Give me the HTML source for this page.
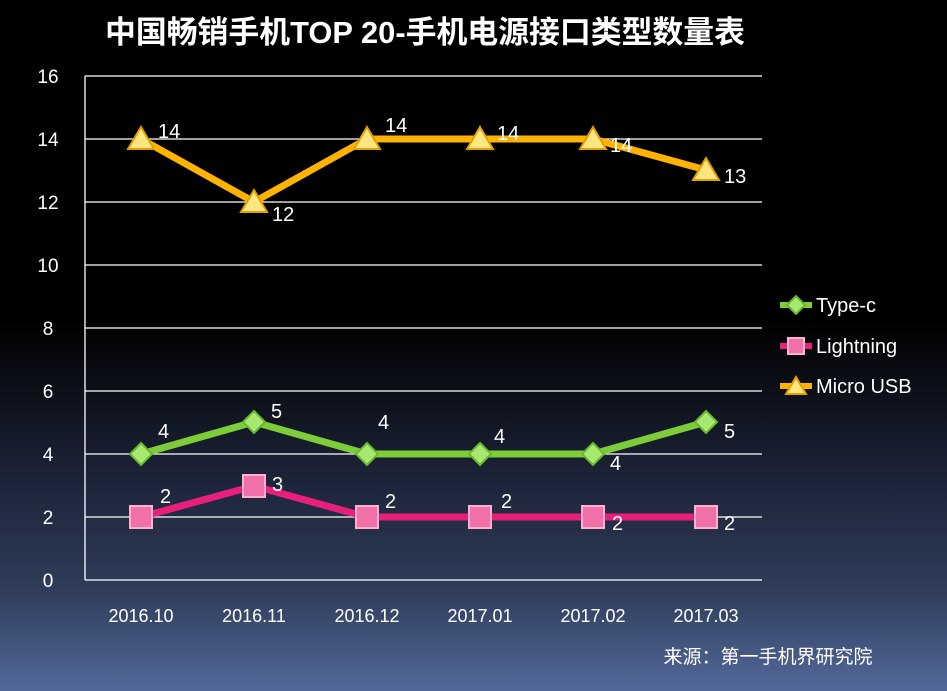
<!DOCTYPE html>
<html><head><meta charset="utf-8"><style>
html,body{margin:0;padding:0}
body{width:947px;height:691px;overflow:hidden;background:linear-gradient(to bottom,#000 0px,#000 320px,#1c2438 480px,#2f3d5a 590px,#52699a 691px);font-family:"Liberation Sans","Noto Sans CJK SC",sans-serif}
</style></head><body>
<svg width="947" height="691" xmlns="http://www.w3.org/2000/svg" style="position:absolute;left:0;top:0">
<text x="425" y="43" fill="#fff" font-size="31" font-weight="bold" text-anchor="middle" textLength="640" lengthAdjust="spacingAndGlyphs" font-family="'Liberation Sans','Noto Sans CJK SC',sans-serif">中国畅销手机TOP 20-手机电源接口类型数量表</text>
<g stroke="#fff" stroke-width="1.3">
<line x1="85" x2="762" y1="76" y2="76"/><line x1="85" x2="762" y1="139" y2="139"/><line x1="85" x2="762" y1="202" y2="202"/><line x1="85" x2="762" y1="265" y2="265"/><line x1="85" x2="762" y1="328" y2="328"/><line x1="85" x2="762" y1="391" y2="391"/><line x1="85" x2="762" y1="454" y2="454"/><line x1="85" x2="762" y1="517" y2="517"/><line x1="85" x2="762" y1="580" y2="580"/><line x1="85" x2="85" y1="76" y2="580"/>
</g>
<g fill="#fff" font-size="19" text-anchor="middle">
<text x="48" y="83">16</text><text x="48" y="146">14</text><text x="48" y="209">12</text><text x="48" y="272">10</text><text x="48" y="335">8</text><text x="48" y="398">6</text><text x="48" y="461">4</text><text x="48" y="524">2</text><text x="48" y="587">0</text>
</g>
<g fill="#fff" font-size="18" text-anchor="middle">
<text x="141" y="622">2016.10</text><text x="254" y="622">2016.11</text><text x="367" y="622">2016.12</text><text x="480" y="622">2017.01</text><text x="593" y="622">2017.02</text><text x="706" y="622">2017.03</text>
</g>
<text x="768" y="663" fill="#fff" font-size="19" text-anchor="middle">来源：第一手机界研究院</text>
<polyline points="141,139 254,202 367,139 480,139 593,139 706,170" fill="none" stroke="#ffb300" stroke-width="7" stroke-linejoin="round"/>
<g fill="#ffe680" stroke="#e0a000" stroke-width="2">
<polygon points="141,127 154,149 128,149"/><polygon points="254,190 267,212 241,212"/><polygon points="367,127 380,149 354,149"/><polygon points="480,127 493,149 467,149"/><polygon points="593,127 606,149 580,149"/><polygon points="706,158 719,180 693,180"/>
</g>
<polyline points="141,454 254,422 367,454 480,454 593,454 706,422" fill="none" stroke="#7dcc3a" stroke-width="7" stroke-linejoin="round"/>
<g fill="#a8e870" stroke="#6ab830" stroke-width="2">
<polygon points="141,443 152,454 141,465 130,454"/><polygon points="254,411 265,422 254,433 243,422"/><polygon points="367,443 378,454 367,465 356,454"/><polygon points="480,443 491,454 480,465 469,454"/><polygon points="593,443 604,454 593,465 582,454"/><polygon points="706,411 717,422 706,433 695,422"/>
</g>
<polyline points="141,517 254,486 367,517 480,517 593,517 706,517" fill="none" stroke="#e8207a" stroke-width="7" stroke-linejoin="round"/>
<g fill="#f070a8" stroke="#ffb0d0" stroke-width="2">
<rect x="130" y="506" width="22" height="22"/><rect x="243" y="475" width="22" height="22"/><rect x="356" y="506" width="22" height="22"/><rect x="469" y="506" width="22" height="22"/><rect x="582" y="506" width="22" height="22"/><rect x="695" y="506" width="22" height="22"/>
</g>
<g fill="#fff" font-size="20">
<text x="158" y="138">14</text><text x="272" y="221">12</text><text x="385" y="132">14</text><text x="497" y="140">14</text><text x="610" y="152">14</text><text x="724" y="183">13</text>
<text x="158" y="438">4</text><text x="271" y="418">5</text><text x="378" y="429">4</text><text x="494" y="443">4</text><text x="610" y="470">4</text><text x="724" y="438">5</text>
<text x="160" y="503">2</text><text x="272" y="491">3</text><text x="385" y="508">2</text><text x="501" y="508">2</text><text x="612" y="530">2</text><text x="724" y="530">2</text>
</g>
<line x1="780" y1="305" x2="812" y2="305" stroke="#7dcc3a" stroke-width="6"/>
<polygon points="796,296 805,305 796,314 787,305" fill="#a8e870" stroke="#6ab830" stroke-width="2"/>
<text x="816" y="312" fill="#fff" font-size="20">Type-c</text>
<line x1="780" y1="346" x2="812" y2="346" stroke="#e8207a" stroke-width="6"/>
<rect x="788" y="338" width="16" height="16" fill="#f070a8" stroke="#ffb0d0" stroke-width="2"/>
<text x="816" y="353" fill="#fff" font-size="20">Lightning</text>
<line x1="780" y1="386" x2="812" y2="386" stroke="#ffb300" stroke-width="6"/>
<polygon points="796,377 806,394 786,394" fill="#ffe680" stroke="#e0a000" stroke-width="2"/>
<text x="816" y="393" fill="#fff" font-size="20">Micro USB</text>
</svg>
</body></html>
